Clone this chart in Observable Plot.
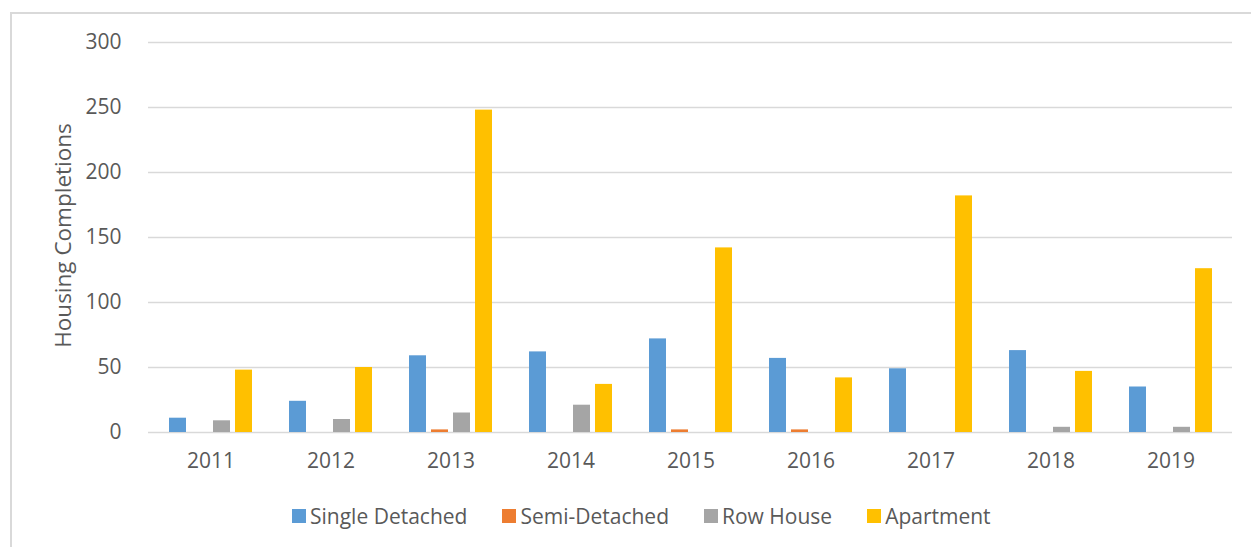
<!DOCTYPE html>
<html>
<head>
<meta charset="utf-8">
<script src="https://cdn.jsdelivr.net/npm/d3@7"></script>
<script src="https://cdn.jsdelivr.net/npm/@observablehq/plot@0.6"></script>
<style>
  html, body { margin: 0; padding: 0; background: #fff; overflow: hidden; }
  #wrap { position: relative; width: 1251px; height: 547px; overflow: hidden; font-family: "Open Sans", sans-serif; }
  #frame { position: absolute; left: 10px; top: 12px; width: 1300px; height: 600px;
           border-left: 2px solid #d9d9d9; border-top: 2px solid #d9d9d9; box-sizing: border-box; }
  #chart { position: absolute; left: 0; top: 0; }
  #legend { position: absolute; left: 292px; top: 500px; height: 32px; display: flex; align-items: center;
            font-size: 21px; color: #595959; white-space: nowrap; }
  .item { display: flex; align-items: center; margin-right: 35px; }
  .sw { width: 14px; height: 14px; margin-right: 4px; }
</style>
</head>
<body>
<div id="wrap">
  <div id="frame"></div>
  <div id="chart"></div>
  <div id="legend"></div>
</div>
<script>
const years = ["2011", "2012", "2013", "2014", "2015", "2016", "2017", "2018", "2019"];
const series = ["Single Detached", "Semi-Detached", "Row House", "Apartment"];
const colors = ["#5b9bd5", "#ed7d31", "#a5a5a5", "#ffc000"];
const singleDetached = [11, 24, 59, 62, 72, 57, 49, 63, 35];
const semiDetached = [0, 0, 2, 0, 2, 2, 0, 0, 0];
const rowHouse = [9, 10, 15, 21, 0, 0, 0, 4, 4];
const apartment = [48, 50, 248, 37, 142, 42, 182, 47, 126];
const yTicks = [0, 50, 100, 150, 200, 250, 300];
const yLabel = "Housing Completions";

const seriesValues = [singleDetached, semiDetached, rowHouse, apartment];
const rows = series.map((s, k) => years.map((y, i) => ({year: y, series: s, value: seriesValues[k][i]})));

const groupWidth = 83, barStep = 22, barWidth = 17;

const chart = Plot.plot({
  width: 1251,
  height: 490,
  marginTop: 42,
  marginBottom: 58,
  marginLeft: 148,
  marginRight: 19,
  style: {fontFamily: "Open Sans, sans-serif", fontSize: "21px", color: "#595959", background: "transparent"},
  x: {type: "band", domain: years, paddingInner: 0.31, paddingOuter: 0.155, label: null},
  y: {domain: [0, 300], label: null},
  marks: [
    Plot.gridY(yTicks, {stroke: "#d9d9d9", strokeOpacity: 1, strokeWidth: 1.6}),
    ...rows.map((data, k) => Plot.barY(data, {
      x: "year", y: "value", fill: colors[k],
      insetLeft: k * barStep, insetRight: groupWidth - k * barStep - barWidth
    })),
    Plot.axisY(yTicks, {tickSize: 0, tickPadding: 27, fontSize: 21, label: null}),
    Plot.axisX({tickSize: 0, tickPadding: 21, fontSize: 21, label: null}),
    Plot.text([yLabel], {frameAnchor: "left", textAnchor: "middle", rotate: -90, dx: -85, dy: -2, text: d => d, fontSize: 22.5, fill: "#595959"})
  ]
});
document.getElementById("chart").appendChild(chart);

const legend = d3.select("#legend");
series.forEach((s, k) => {
  const item = legend.append("div").attr("class", "item");
  item.append("div").attr("class", "sw").style("background", colors[k]);
  item.append("span").text(s);
});
</script>
</body>
</html>
